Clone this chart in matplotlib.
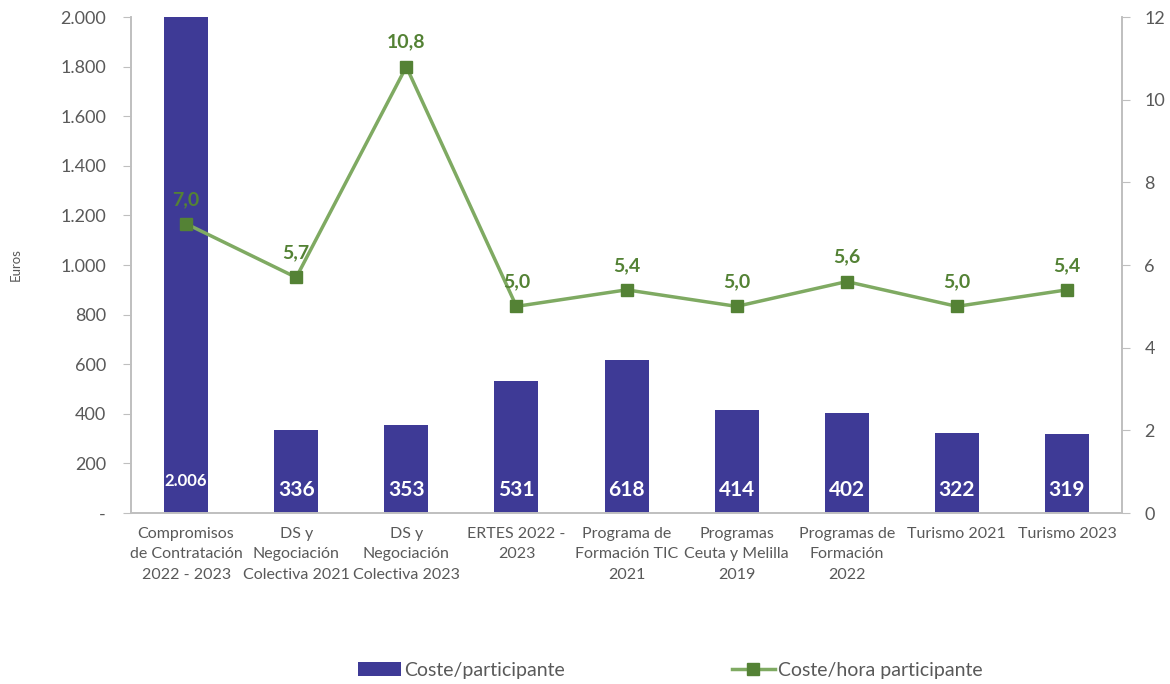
import matplotlib.pyplot as plt
from matplotlib.ticker import FuncFormatter

plt.rcParams['font.family'] = ['Lato', 'DejaVu Sans']

categories = ['Compromisos\nde Contratación\n2022 - 2023', 'DS y\nNegociación\nColectiva 2021',
              'DS y\nNegociación\nColectiva 2023', 'ERTES 2022 -\n2023', 'Programa de\nFormación TIC\n2021',
              'Programas\nCeuta y Melilla\n2019', 'Programas de\nFormación\n2022', 'Turismo 2021', 'Turismo 2023']
coste_participante = [2006, 336, 353, 531, 618, 414, 402, 322, 319]
coste_hora = [7.0, 5.7, 10.8, 5.0, 5.4, 5.0, 5.6, 5.0, 5.4]

bar_color = '#3E3A96'
line_color = '#7FAA62'
marker_color = '#548235'
grey = '#595959'
spine_grey = '#BFBFBF'

fig = plt.figure(figsize=(11.7, 6.84), dpi=100)
ax = fig.add_axes([0.112, 0.25, 0.847, 0.725])
ax2 = ax.twinx()

x = list(range(len(categories)))
bars = ax.bar(x, coste_participante, width=0.4, color=bar_color, label='Coste/participante', zorder=2)
ax.set_xlim(-0.5, len(categories) - 0.5)
ax.set_ylim(0, 2000)
ax.set_yticks(range(0, 2001, 200))
ax.yaxis.set_major_formatter(FuncFormatter(lambda v, p: '-' if v == 0 else f'{int(v):,}'.replace(',', '.')))
ax.set_xticks(x)
ax.set_xticklabels(categories, fontsize=11.5, color=grey, linespacing=1.6)
ax.tick_params(axis='x', length=0, pad=10)
ax.tick_params(axis='y', colors=spine_grey, labelcolor=grey, labelsize=13, length=6, pad=12)
ax.set_ylabel('Euros', fontsize=9.5, color=grey)
ax.yaxis.set_label_coords(-0.11, 0.5)

for xi, v in zip(x, coste_participante):
    txt = f'{v:,}'.replace(',', '.')
    if v > 2000:
        ax.text(xi, 0.065, txt, transform=ax.get_xaxis_transform(), ha='center', va='center',
                color='white', fontsize=12, fontweight='bold', zorder=4)
    else:
        ax.text(xi, 0.047, txt, transform=ax.get_xaxis_transform(), ha='center', va='center',
                color='white', fontsize=15, fontweight='bold', zorder=4)

ax2.plot(x, coste_hora, color=line_color, lw=2.5, marker='s', markersize=8,
         markerfacecolor=marker_color, markeredgecolor=marker_color, label='Coste/hora participante', zorder=3)
for xi, v in zip(x, coste_hora):
    ax2.annotate(f'{v:.1f}'.replace('.', ','), (xi, v), xytext=(0, 11.5), textcoords='offset points',
                 ha='center', va='bottom', color=marker_color, fontsize=14, fontweight='bold')
ax2.set_ylim(0, 12)
ax2.set_yticks(range(0, 13, 2))
ax2.tick_params(axis='y', colors=spine_grey, labelcolor=grey, labelsize=13, length=6, pad=10)

for a in (ax, ax2):
    a.spines['top'].set_visible(False)
    for s in ('left', 'right', 'bottom'):
        a.spines[s].set_color(spine_grey)
        a.spines[s].set_linewidth(1.2)

h1, l1 = ax.get_legend_handles_labels()
h2, l2 = ax2.get_legend_handles_labels()
fig.legend(h1 + h2, l1 + l2, loc='center', bbox_to_anchor=(0.573, 0.02), ncol=2, frameon=False,
           fontsize=14, labelcolor=grey, columnspacing=8.6, handlelength=2.2, handletextpad=0.15)

plt.savefig('out.png', dpi=100)
